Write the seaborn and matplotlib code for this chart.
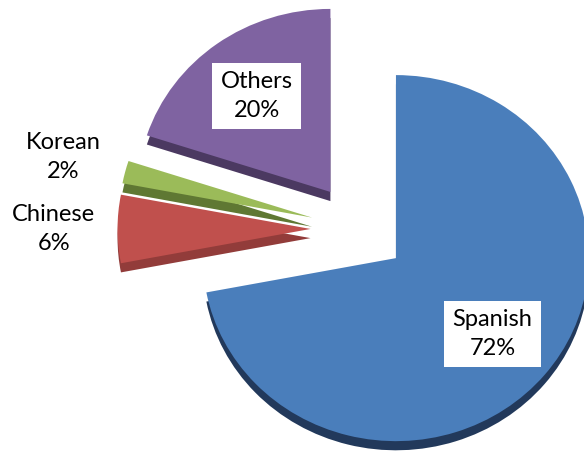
import matplotlib.pyplot as plt
import numpy as np
import seaborn as sns

languages = ['Spanish', 'Chinese', 'Korean', 'Others']
shares = [72, 6, 2, 20]
top_colors = ['#4A7EBB', '#C0504D', '#9BBB59', '#7F63A1']
side_colors = ['#22395B', '#923C3A', '#5F7833', '#4B3961']

sns.set_theme(style='white')
plt.rcParams['font.family'] = ['Lato', 'DejaVu Sans']

fig = plt.figure(figsize=(5.84, 4.57), dpi=100)
ax = fig.add_axes([0, 0, 1, 1])

explode = [0.25] * len(shares)
depth = 0.05

# darker copy shifted down gives the 3D edge of each slice
ax.pie(shares, explode=explode, colors=side_colors, startangle=90,
       counterclock=False, center=(0, -depth), wedgeprops=dict(linewidth=0))
wedges, _ = ax.pie(shares, explode=explode, colors=top_colors, startangle=90,
                   counterclock=False, wedgeprops=dict(linewidth=0))

for w, lang, share in zip(wedges, languages, shares):
    mid = np.deg2rad((w.theta1 + w.theta2) / 2)
    dist = 0.65 if share >= 10 else 1.33
    cx, cy = w.center
    x = cx + dist * w.r * np.cos(mid)
    y = cy + dist * w.r * np.sin(mid)
    box = dict(boxstyle='square,pad=0.35', fc='white', ec='none') if share >= 10 else None
    ax.text(x, y, f'{lang}\n{share}%', ha='center', va='center', fontsize=17,
            linespacing=1.45, color='black', bbox=box)

# slightly flattened, off-centre pie as in the original
ax.set_aspect('auto')
ax.set_xlim(-1.859, 1.167)
ax.set_ylim(-1.246, 1.251)
ax.axis('off')

fig.savefig('out.png', dpi=100)
